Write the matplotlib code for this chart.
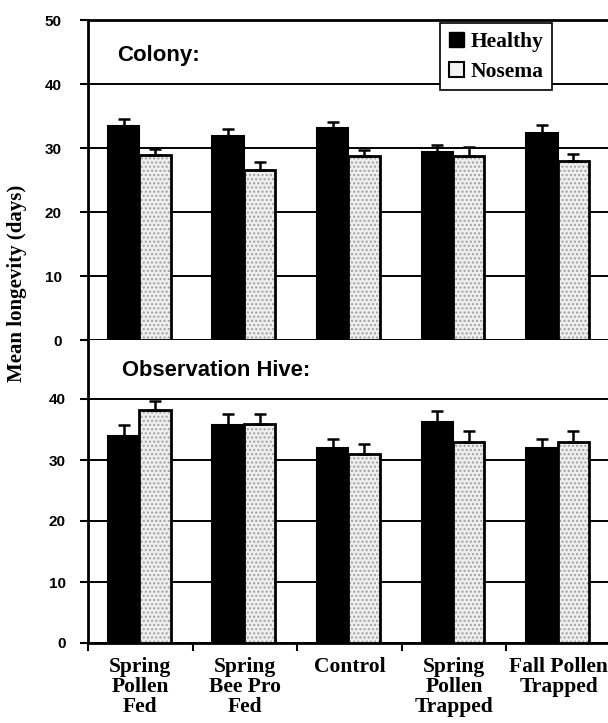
import matplotlib
matplotlib.use("Agg")
import matplotlib.pyplot as plt
import numpy as np
from matplotlib.patches import Patch

categories = ["Spring\nPollen\nFed", "Spring\nBee Pro\nFed", "Control",
              "Spring\nPollen\nTrapped", "Fall Pollen\nTrapped"]

colony_healthy = [33.4, 31.8, 33.1, 29.3, 32.4]
colony_healthy_err = [1.1, 1.1, 1.0, 1.2, 1.2]
colony_nosema = [28.9, 26.6, 28.8, 28.7, 27.9]
colony_nosema_err = [1.0, 1.2, 0.9, 1.5, 1.2]

hive_healthy = [34.0, 35.8, 31.9, 36.3, 31.9]
hive_healthy_err = [1.7, 1.7, 1.5, 1.7, 1.5]
hive_nosema = [38.2, 35.9, 31.0, 33.0, 33.0]
hive_nosema_err = [1.5, 1.6, 1.7, 1.8, 1.8]

top_ticks = [0, 10, 20, 30, 40, 50]
bottom_ticks = [0, 10, 20, 30, 40]

serif = ["Liberation Serif", "DejaVu Serif"]
sans = ["Liberation Sans", "DejaVu Sans"]

fig = plt.figure(figsize=(6.08, 7.23), dpi=100)
left = 88 / 608
width = (611 - 88) / 608
ax1 = fig.add_axes([left, (723 - 340) / 723, width, (340 - 20) / 723])
ax2 = fig.add_axes([left, (723 - 643) / 723, width, (643 - 340) / 723])

x = np.arange(len(categories))
bw = 0.3
off_h = -0.16
off_n = 0.14


def draw(ax, h, he, n, ne):
    ax.bar(x + off_h, h, bw, color="black", edgecolor="black", linewidth=1.5, zorder=3)
    ax.bar(x + off_n, n, bw, color="#eeeeee", hatch="....", edgecolor="#a0a0a0",
           linewidth=0, zorder=3)
    ax.bar(x + off_n, n, bw, fill=False, edgecolor="black", linewidth=2.0, zorder=4)
    for xs, v, e in ((x + off_h, h, he), (x + off_n, n, ne)):
        ax.errorbar(xs, v, yerr=[np.zeros(len(e)), e], fmt="none", ecolor="black",
                    elinewidth=1.8, capsize=4, capthick=1.8, zorder=5)
    ax.set_xlim(-0.5, 4.5)
    ax.yaxis.grid(True, color="black", linewidth=1.4, zorder=0)
    ax.set_axisbelow(True)
    for s in ax.spines.values():
        s.set_linewidth(2.0)
    ax.spines["right"].set_visible(False)


draw(ax1, colony_healthy, colony_healthy_err, colony_nosema, colony_nosema_err)
draw(ax2, hive_healthy, hive_healthy_err, hive_nosema, hive_nosema_err)

ax1.set_ylim(0, 50)
ax1.set_yticks(top_ticks)
ax1.set_yticklabels([str(t) for t in top_ticks], fontsize=11, fontweight="bold",
                    family=sans)
ax1.tick_params(axis="y", length=6, width=1.5, pad=13)
ax1.set_xticks([])

ax2.set_ylim(0, 303 / 6.1)
ax2.set_yticks(bottom_ticks)
ax2.set_yticklabels([str(t) for t in bottom_ticks], fontsize=11, fontweight="bold",
                    family=sans)
ax2.tick_params(axis="y", length=6, width=1.5, pad=10)
ax2.spines["top"].set_visible(False)
ax2.set_xticks(x)
ax2.set_xticklabels(categories, fontsize=15.5, fontweight="bold", family=serif,
                    linespacing=1.0, va="top")
ax2.tick_params(axis="x", which="major", length=0, pad=10)
ax2.set_xticks(np.arange(-0.5, 4.6, 1.0), minor=True)
ax2.tick_params(axis="x", which="minor", length=6, width=1.5)

ax1.text(0.055, 0.89, "Colony:", transform=ax1.transAxes, fontsize=16,
         fontweight="bold", family=sans, va="center", ha="left")
ax2.text(0.065, 0.90, "Observation Hive:", transform=ax2.transAxes, fontsize=15.8,
         fontweight="bold", family=sans, va="center", ha="left")

handles = [Patch(facecolor="black", edgecolor="black", label="Healthy"),
           Patch(facecolor="#f2f2f2", edgecolor="black", linewidth=1.5, label="Nosema")]
leg = ax1.legend(handles=handles, loc="upper right", bbox_to_anchor=(0.887, 0.99),
                 borderaxespad=0,
                 prop={"family": serif, "weight": "bold", "size": 15.5},
                 handlelength=0.7, handleheight=0.7, handletextpad=0.3,
                 fancybox=False, framealpha=1, edgecolor="black",
                 borderpad=0.4, labelspacing=0.45)
leg.get_frame().set_linewidth(1.2)
leg.set_zorder(10)

fig.text(17 / 608, 1 - 283 / 723, "Mean longevity (days)", rotation=90,
         fontsize=15, fontweight="bold", family=serif, va="center", ha="center")

fig.savefig("out.png", dpi=100)
